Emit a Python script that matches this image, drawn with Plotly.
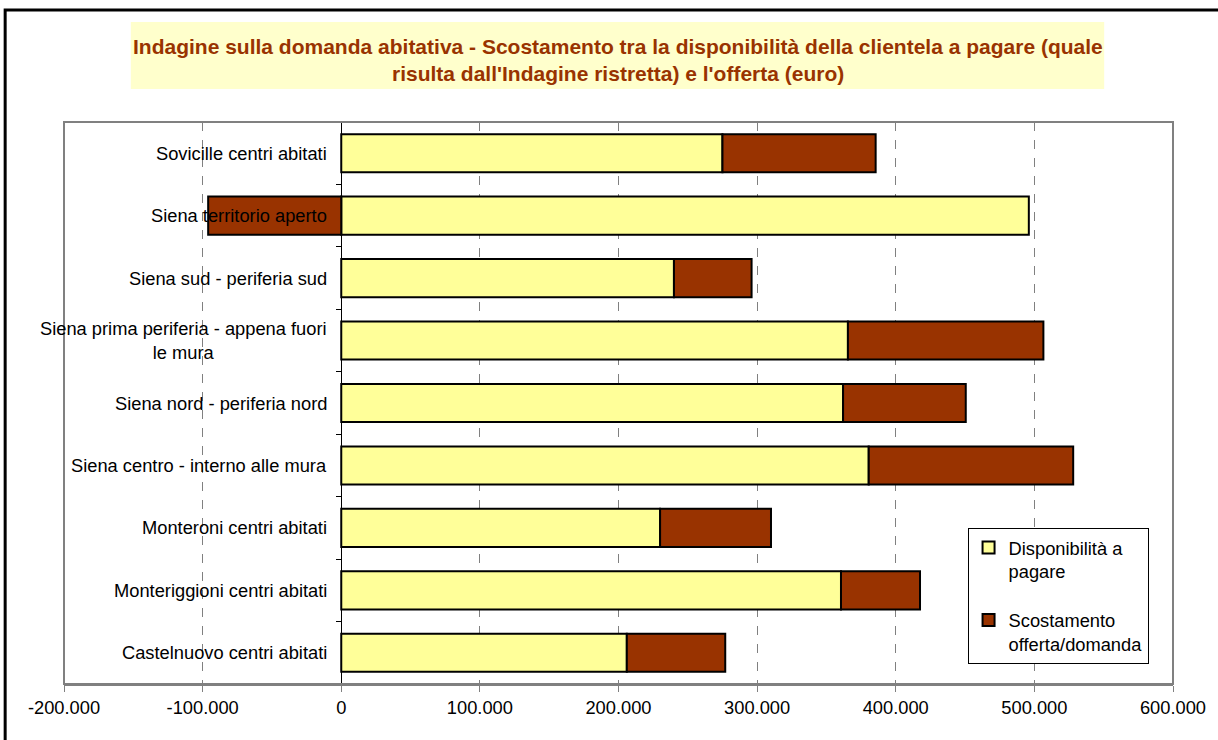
import plotly.graph_objects as go

categories = [
    "Sovicille centri abitati",
    "Siena territorio aperto",
    "Siena sud - periferia sud",
    "Siena prima periferia - appena fuori<br>le mura",
    "Siena nord - periferia nord",
    "Siena centro - interno alle mura",
    "Monteroni centri abitati",
    "Monteriggioni centri abitati",
    "Castelnuovo centri abitati",
]
disponibilita = [275000, 496000, 240000, 365500, 362000, 380500, 230000, 360500, 206000]
scostamento = [110500, -96000, 56000, 141000, 88500, 147500, 80000, 57000, 71000]

tick_values = [-200000, -100000, 0, 100000, 200000, 300000, 400000, 500000, 600000]
tick_labels = ["-200.000", "-100.000", "0", "100.000", "200.000", "300.000",
               "400.000", "500.000", "600.000"]

title_lines = [
    "Indagine sulla domanda abitativa - Scostamento tra la disponibilità della clientela a pagare (quale",
    "risulta dall'Indagine ristretta) e l'offerta (euro)",
]
series_names = ["Disponibilità a<br>pagare", "Scostamento<br>offerta/domanda"]

FONT = "Liberation Sans, Arial, sans-serif"

# pixel geometry helpers (plot area 64..1176 x 122..684)
W, H = 1218, 740
L, R, T, B = 64, 1176, 122, 684
def px(x):
    return (x - L) / (R - L)
def py(y):
    return (B - y) / (B - T)

fig = go.Figure()
fig.add_trace(go.Bar(
    y=categories, x=disponibilita, orientation="h", name=series_names[0],
    marker=dict(color="#FFFF99", line=dict(color="black", width=2)),
    legendgroup="a",
))
fig.add_trace(go.Bar(
    y=categories, x=scostamento, orientation="h", name=series_names[1],
    marker=dict(color="#993300", line=dict(color="black", width=2)),
    legendgroup="b",
))

annotations = []
for c in categories:
    annotations.append(dict(
        x=0, y=c, xref="x", yref="y", text=c, showarrow=False,
        xanchor="right", yanchor="middle", align="center", xshift=-12,
        font=dict(family=FONT, size=18.3, color="black"),
    ))
for line, ypix in zip(title_lines, [46, 73]):
    annotations.append(dict(
        x=px(619), y=py(ypix), xref="paper", yref="paper", text="<b>" + line + "</b>",
        showarrow=False, xanchor="center", yanchor="middle",
        font=dict(family=FONT, size=21, color="#993300"),
    ))

shapes = [
    # title background
    dict(type="rect", xref="paper", yref="paper", x0=px(131), x1=px(1107),
         y0=py(89), y1=py(22), fillcolor="#FFFFCC", line=dict(width=0), layer="below"),
    # outer frame
    dict(type="rect", xref="paper", yref="paper", x0=px(5), x1=px(1250),
         y0=py(770), y1=py(10), line=dict(color="black", width=3), fillcolor="rgba(0,0,0,0)"),
    # plot area border
    dict(type="rect", xref="paper", yref="paper", x0=0, x1=1, y0=0, y1=1,
         line=dict(color="#808080", width=2), fillcolor="rgba(0,0,0,0)"),
]

fig.update_layout(
    barmode="relative",
    bargap=0.39,
    width=W, height=H,
    margin=dict(l=L, r=W - R, t=T, b=H - B),
    paper_bgcolor="white", plot_bgcolor="white",
    font=dict(family=FONT, size=18, color="black"),
    xaxis=dict(
        range=[-200000, 600000], tickvals=tick_values, ticktext=tick_labels,
        showgrid=True, gridcolor="#808080", griddash="dash", gridwidth=1,
        zeroline=False, showline=True, linecolor="#808080", linewidth=2,
        ticks="outside", ticklen=6, tickcolor="#808080", tickwidth=1,
        tickfont=dict(family=FONT, size=18.3, color="black"),
    ),
    yaxis=dict(
        type="category", autorange="reversed", anchor="free", position=0.25,
        showline=True, linecolor="black", linewidth=1,
        ticks="outside", tickson="boundaries", ticklen=5, tickcolor="black",
        showticklabels=False, showgrid=False, zeroline=False,
    ),
    legend=dict(
        x=px(970), y=py(528), xanchor="left", yanchor="top",
        bordercolor="black", borderwidth=1, bgcolor="white",
        font=dict(family=FONT, size=18.3, color="black"),
        traceorder="grouped", tracegroupgap=22, valign="top",
    ),
    annotations=annotations,
    shapes=shapes,
)

fig.write_html("out.html", config={"displayModeBar": False},
               post_script="document.body.style.margin='0';")
